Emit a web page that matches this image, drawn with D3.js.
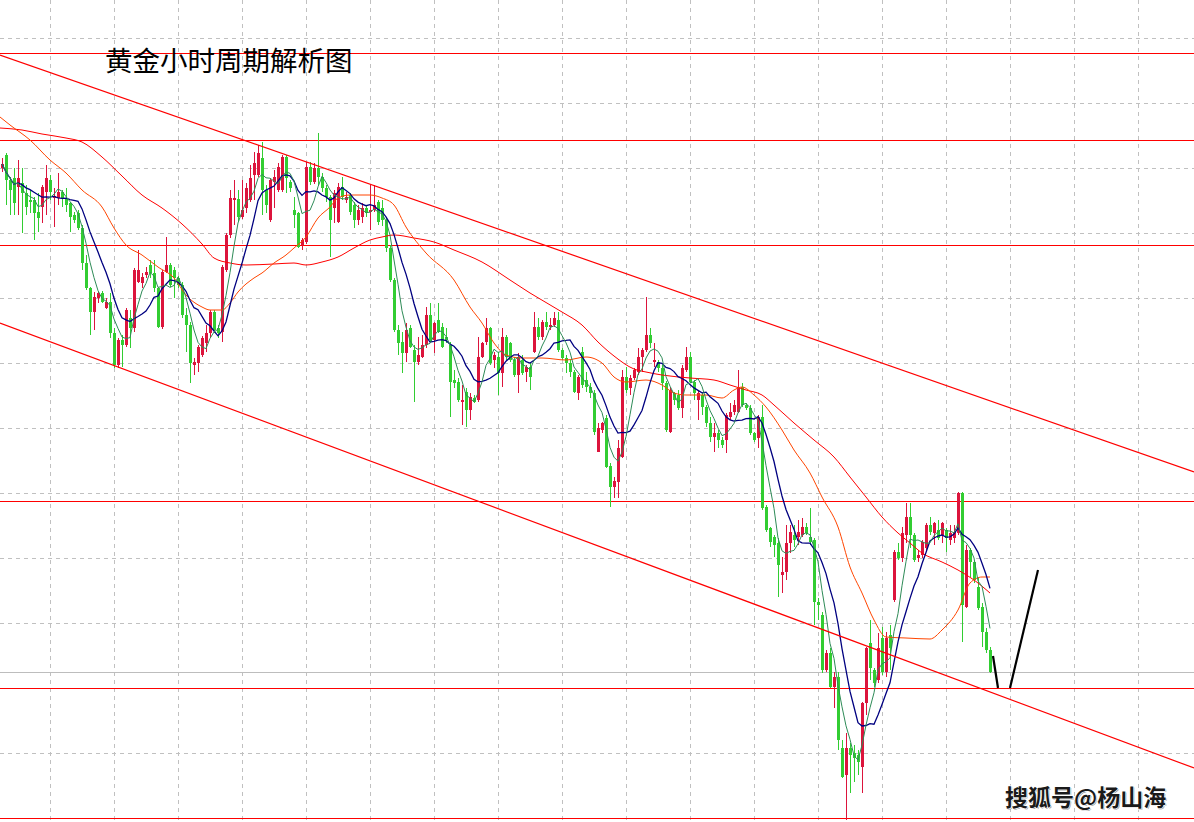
<!DOCTYPE html>
<html><head><meta charset="utf-8">
<script src="https://cdn.jsdelivr.net/npm/d3@7"></script>
<style>html,body{margin:0;padding:0;background:#fff;overflow:hidden}</style>
</head><body><svg id="c" width="1194" height="822"></svg>
<script>
// ---- data (gold, hourly candles) ----
const opens=[1832,1845,1820,1822,1813,1817,1807,1800,1800,1788,
1793,1808,1820,1802,1802,1808,1802,1797,1785,1787,
1772,1737,1712,1688,1702,1707,1692,1698,1667,1635,
1660,1655,1682,1672,1718,1717,1725,1735,1727,1712,
1673,1728,1735,1730,1722,1715,1685,1675,1635,1637,
1645,1657,1667,1688,1672,1668,1730,1765,1800,1801,
1783,1792,1800,1825,1825,1842,1810,1780,1818,1810,
1810,1843,1818,1790,1787,1755,1758,1833,1818,1832,
1823,1812,1803,1792,1778,1813,1800,1805,1795,1780,
1783,1792,1788,1790,1798,1792,1780,1752,1720,1670,
1658,1647,1672,1650,1638,1643,1655,1685,1660,1680,
1673,1663,1655,1620,1618,1598,1608,1590,1602,1600,
1643,1658,1672,1640,1643,1627,1663,1657,1640,1625,
1640,1628,1633,1648,1673,1663,1678,1673,1675,1680,
1650,1642,1637,1628,1607,1648,1620,1613,1607,1548,
1570,1582,1534,1513,1518,1543,1623,1612,1622,1628,
1643,1650,1665,1638,1638,1632,1617,1568,1607,1605,
1592,1630,1643,1618,1600,1605,1593,1577,1563,1567,
1560,1560,1583,1588,1588,1613,1595,1592,1567,1562,
1583,1493,1472,1463,1457,1425,1428,1457,1465,1463,
1465,1473,1463,1460,1398,1385,1330,1347,1313,1323,
1252,1225,1252,1247,1245,1233,1297,1357,1330,1320,
1362,1328,1365,1400,1448,1442,1465,1483,1465,1442,
1445,1452,1475,1467,1470,1465,1470,1460,1462,1467,
1507,1393,1450,1438,1413,1393,1368,1350];
const highs=[1842,1847,1823,1832,1840,1832,1815,1810,1803,1807,
1815,1835,1825,1812,1827,1810,1812,1798,1788,1790,
1775,1745,1713,1708,1708,1709,1702,1707,1672,1662,
1665,1692,1690,1732,1750,1727,1733,1740,1740,1713,
1730,1763,1737,1733,1724,1718,1692,1678,1642,1655,
1664,1675,1690,1690,1675,1735,1767,1810,1820,1810,
1820,1817,1835,1848,1855,1858,1815,1822,1830,1837,
1845,1845,1820,1803,1788,1762,1838,1838,1837,1867,
1827,1815,1805,1810,1817,1823,1808,1807,1798,1795,
1797,1795,1815,1815,1800,1800,1782,1755,1722,1675,
1668,1677,1675,1655,1663,1665,1693,1697,1678,1697,
1677,1672,1658,1630,1622,1615,1612,1607,1605,1663,
1658,1682,1673,1648,1648,1672,1665,1658,1643,1647,
1645,1635,1638,1688,1682,1680,1688,1682,1688,1688,
1652,1645,1640,1630,1625,1653,1628,1617,1610,1577,
1578,1585,1537,1523,1560,1630,1633,1625,1632,1652,
1652,1703,1672,1657,1640,1635,1619,1613,1608,1610,
1635,1653,1648,1620,1610,1607,1595,1583,1577,1570,
1563,1587,1597,1600,1630,1617,1597,1595,1568,1585,
1595,1495,1473,1465,1462,1443,1475,1475,1475,1480,
1482,1477,1492,1462,1402,1388,1350,1352,1328,1328,
1260,1267,1257,1255,1250,1298,1353,1380,1332,1367,
1373,1368,1375,1450,1457,1473,1497,1497,1467,1450,
1460,1477,1483,1478,1480,1478,1472,1475,1475,1508,
1508,1455,1452,1440,1422,1397,1372,1353];
const lows=[1828,1795,1785,1785,1785,1767,1785,1787,1760,1768,
1777,1785,1800,1773,1795,1793,1788,1768,1777,1770,
1730,1710,1665,1670,1697,1697,1691,1662,1632,1632,
1633,1653,1652,1668,1717,1712,1722,1722,1708,1672,
1671,1727,1713,1702,1712,1682,1648,1617,1625,1628,
1643,1648,1662,1667,1662,1658,1728,1762,1775,1778,
1781,1787,1798,1800,1823,1785,1787,1778,1792,1808,
1808,1807,1808,1772,1752,1750,1756,1815,1816,1815,
1808,1798,1743,1777,1777,1800,1797,1785,1772,1775,
1777,1783,1770,1788,1775,1774,1748,1718,1668,1645,
1627,1638,1652,1598,1635,1642,1652,1658,1647,1667,
1652,1657,1583,1612,1598,1575,1573,1580,1597,1598,
1642,1655,1635,1632,1605,1613,1640,1638,1623,1607,
1625,1618,1610,1647,1660,1660,1670,1670,1673,1648,
1640,1627,1623,1607,1600,1612,1608,1602,1565,1548,
1567,1532,1493,1502,1502,1542,1607,1605,1620,1625,
1628,1648,1652,1633,1628,1610,1568,1567,1595,1590,
1582,1628,1617,1600,1580,1585,1573,1558,1548,1552,
1552,1547,1580,1585,1587,1593,1590,1565,1558,1552,
1490,1468,1453,1443,1403,1407,1420,1447,1453,1455,
1463,1465,1455,1375,1380,1327,1328,1312,1292,1250,
1222,1180,1207,1218,1225,1207,1285,1320,1313,1317,
1325,1323,1330,1398,1440,1438,1457,1452,1438,1438,
1442,1448,1465,1455,1460,1457,1448,1455,1457,1465,
1358,1392,1423,1417,1390,1353,1347,1327];
const closes=[1836,1820,1810,1797,1822,1807,1793,1798,1787,1782,
1813,1822,1808,1804,1808,1802,1795,1783,1780,1772,
1737,1712,1688,1703,1707,1698,1698,1667,1635,1660,
1655,1690,1672,1730,1730,1723,1728,1727,1712,1673,
1728,1735,1715,1722,1715,1685,1675,1637,1638,1653,
1662,1667,1688,1670,1667,1733,1765,1802,1802,1783,
1790,1812,1822,1837,1847,1810,1795,1820,1823,1833,
1843,1822,1812,1785,1753,1760,1833,1818,1832,1823,
1812,1803,1780,1807,1813,1803,1803,1788,1780,1790,
1792,1787,1790,1795,1778,1780,1752,1720,1670,1657,
1647,1670,1653,1638,1645,1655,1685,1660,1677,1668,
1653,1660,1618,1617,1600,1600,1590,1603,1598,1643,
1657,1672,1637,1645,1627,1663,1643,1640,1625,1643,
1627,1633,1623,1673,1663,1678,1673,1675,1682,1650,
1642,1637,1628,1608,1623,1615,1613,1607,1568,1572,
1577,1533,1513,1519,1552,1623,1610,1622,1630,1643,
1650,1665,1657,1640,1632,1617,1570,1610,1600,1592,
1632,1643,1618,1607,1607,1593,1577,1563,1567,1560,
1555,1585,1588,1595,1613,1595,1592,1567,1560,1583,
1492,1470,1458,1455,1435,1428,1457,1468,1460,1468,
1473,1467,1458,1398,1395,1330,1347,1313,1323,1260,
1223,1252,1245,1242,1238,1297,1352,1332,1317,1352,
1328,1362,1352,1448,1442,1467,1483,1465,1440,1445,
1458,1475,1468,1477,1462,1477,1462,1467,1468,1507,
1395,1450,1438,1420,1392,1368,1350,1328];

// slower moving averages: [candle index, value]
const maOrange=[[-0.5,1883],[2,1875],[7,1860],[12,1840],[16,1827],[20,1810],[25,1793],[28,1772],[31,1755],[35,1745],[39,1733],[43,1722],[46,1705],[50,1693],[52,1690],[55,1690],[57,1697],[59,1708],[63,1722],[65,1727],[68,1737],[71,1745],[73,1752],[76,1763],[79,1782],[82,1793],[84,1802],[87,1805],[92,1805],[95,1802],[98,1795],[101,1773],[106,1747],[113,1720],[117,1693],[120,1677],[123,1657],[126,1645],[130,1642],[135,1642],[141,1640],[146,1643],[150,1637],[153,1623],[156,1618],[161,1620],[165,1615],[168,1607],[171,1605],[176,1605],[180,1602],[183,1610],[185,1613],[188,1605],[191,1593],[195,1570],[198,1550],[202,1527],[205,1503],[209,1473],[212,1433],[215,1407],[218,1380],[221,1363],[226,1362],[232,1361],[235,1370],[239,1390],[242,1417],[245,1423],[247,1423]];
const maRed=[[-0.5,1872],[5,1870],[10,1866],[16,1862],[20,1858],[25,1843],[30,1824],[35,1805],[40,1792],[45,1776],[50,1756],[53,1742],[57,1737],[61,1735],[68,1736],[73,1737],[76,1735],[80,1738],[84,1743],[88,1752],[92,1760],[95,1763],[98,1765],[103,1762],[108,1758],[113,1750],[120,1738],[127,1720],[132,1707],[140,1688],[145,1675],[149,1658],[153,1644],[158,1631],[161,1628],[165,1625],[172,1622],[178,1620],[182,1615],[186,1610],[190,1605],[193,1595],[198,1577],[203,1560],[208,1543],[212,1523],[216,1503],[220,1483],[224,1467],[227,1457],[230,1447],[235,1438],[239,1430],[243,1420],[247,1407]];

const levelLines=[1947,1860,1755,1499,1312,1182];
const grayLevels=[1328];
const gridPrices=[1962,1897,1832,1767,1702,1637,1572,1507,1442,1377,1312,1247,1182];
const gridIdx=[12,28,44,60,76,92,108,124,140,156,172,188,204,220,236,252,268,284];
const trendLines=[[[-0.5,1945],[298,1528]],[[-0.5,1677],[298,1232]]];
const forecast=[[[247.75,1344],[249,1312]],[[252,1312],[259,1430]]];
const title="黄金小时周期解析图";
const watermark="搜狐号@杨山海";

// ---- drawing ----
const W=1194,H=822;
const svg=d3.select("#c");
const x=d3.scaleLinear().domain([0,247]).range([2,990]);
const y=d3.scaleLinear().domain([1178,2000]).range([822,0]);

const g=svg.append("g");
// grid
g.selectAll(".gh").data(gridPrices).join("line")
 .attr("x1",0).attr("x2",W).attr("y1",d=>Math.round(y(d))+0.5).attr("y2",d=>Math.round(y(d))+0.5)
 .attr("stroke","#c0c0c0").attr("stroke-width",1).attr("stroke-dasharray","4,4");
g.selectAll(".gv").data(gridIdx).join("line")
 .attr("y1",0).attr("y2",H).attr("x1",d=>Math.round(x(d))+0.5).attr("x2",d=>Math.round(x(d))+0.5)
 .attr("stroke","#c0c0c0").attr("stroke-width",1).attr("stroke-dasharray","4,4");
// gray level
g.selectAll(".gl").data(grayLevels).join("line")
 .attr("x1",0).attr("x2",W).attr("y1",d=>Math.round(y(d))+0.5).attr("y2",d=>Math.round(y(d))+0.5)
 .attr("stroke","#bdbdbd").attr("stroke-width",1);
// red horizontal levels
g.selectAll(".rl").data(levelLines).join("line")
 .attr("x1",0).attr("x2",W).attr("y1",d=>Math.round(y(d))+0.5).attr("y2",d=>Math.round(y(d))+0.5)
 .attr("stroke","#ff0000").attr("stroke-width",1.2);

// candles
const idx=d3.range(closes.length);
const cg=g.append("g").attr("shape-rendering","crispEdges");
const col=i=>closes[i]>=opens[i]?"#dc143c":"#32cd32";
cg.selectAll(".w").data(idx).join("line")
 .attr("x1",i=>Math.round(x(i))+0.5).attr("x2",i=>Math.round(x(i))+0.5)
 .attr("y1",i=>y(highs[i])).attr("y2",i=>y(lows[i]))
 .attr("stroke",col).attr("stroke-width",1);
cg.selectAll(".b").data(idx).join("rect")
 .attr("x",i=>Math.round(x(i))-1).attr("width",3)
 .attr("y",i=>y(Math.max(opens[i],closes[i])))
 .attr("height",i=>Math.max(1,Math.abs(y(opens[i])-y(closes[i]))))
 .attr("fill",col);

// moving averages
function sma(a,n){return a.map((_,i)=>d3.mean(a.slice(Math.max(0,i-n+1),i+1)));}
const ma5=sma(closes,5), ma10=sma(closes,10);
const lineIdx=d3.line().x((d,i)=>x(i)).y(d=>y(d));
const linePair=d3.line().x(d=>x(d[0])).y(d=>y(d[1])).curve(d3.curveMonotoneX);
g.append("path").attr("d",linePair(maRed)).attr("fill","none").attr("stroke","#ff0000").attr("stroke-width",1);
g.append("path").attr("d",linePair(maOrange)).attr("fill","none").attr("stroke","#ff4500").attr("stroke-width",1);
g.append("path").attr("d",lineIdx(ma10)).attr("fill","none").attr("stroke","#000080").attr("stroke-width",1.3);
g.append("path").attr("d",lineIdx(ma5)).attr("fill","none").attr("stroke","#2e8b57").attr("stroke-width",1);

// channel trend lines
const seg=d3.line().x(d=>x(d[0])).y(d=>y(d[1]));
g.selectAll(".tl").data(trendLines).join("path").attr("d",d=>seg(d))
 .attr("fill","none").attr("stroke","#ff0000").attr("stroke-width",1.2);
// forecast strokes
g.selectAll(".fc").data(forecast).join("path").attr("d",d=>seg(d))
 .attr("fill","none").attr("stroke","#000").attr("stroke-width",2.2);

// texts
svg.append("text").attr("x",105).attr("y",71).text(title)
 .attr("font-family","'Noto Sans CJK SC','Noto Sans',sans-serif").attr("font-size",27.5).attr("fill","#000");
svg.append("text").attr("x",1005).attr("y",806).text(watermark)
 .attr("font-family","'Noto Sans CJK SC',sans-serif").attr("font-size",23).attr("font-weight","bold")
 .attr("fill","#888").attr("transform","translate(1,1)");
svg.append("text").attr("x",1005).attr("y",806).text(watermark)
 .attr("font-family","'Noto Sans CJK SC',sans-serif").attr("font-size",23).attr("font-weight","bold")
 .attr("fill","#1a1a1a").attr("stroke","#fff").attr("stroke-width",1.5).attr("paint-order","stroke");
</script></body></html>
